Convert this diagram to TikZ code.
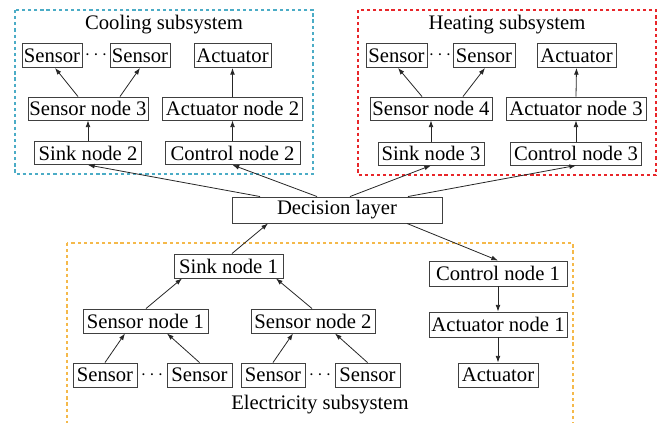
\documentclass[tikz,border=0pt]{standalone}
\usepackage{fontspec}
\setmainfont{Liberation Serif}
\usetikzlibrary{arrows.meta,calc}
\definecolor{coolc}{HTML}{4BACC6}
\definecolor{heatc}{HTML}{E8262A}
\definecolor{elecc}{HTML}{F5B94A}
\begin{document}
\begin{tikzpicture}[x=0.75pt,y=-0.75pt,
  txt/.style={font=\fontsize{15.5}{18}\selectfont, inner sep=0pt},
  box/.style={txt, draw=black!75, line width=0.7pt, minimum height=24*0.75pt},
  bw/.style={minimum width=#1*0.75pt},
  frame/.style={line width=0.9pt, dash pattern=on 2.4pt off 2.2pt},
  arr/.style={draw=black!85, line width=0.6pt, -{Latex[length=5pt,width=3.6pt]}}
]
\useasboundingbox (0,0) rectangle (672,422);

% subsystem frames
\draw[frame, coolc] (15,10) rectangle (313,174);
\draw[frame, heatc] (358,10) rectangle (656,175);
\draw[frame, elecc] (67,243) rectangle (573,440);

% ---- cooling subsystem ----
\node[txt] (ctitle) at (164,25) {Cooling subsystem};
\node[box, bw=60] (cs1) at (52,55.5) {Sensor};
\node[txt] (cdots) at (96,55.5) {$\cdots$};
\node[box, bw=60] (cs2) at (140,55.5) {Sensor};
\node[box, bw=77] (cact) at (232.5,55.5) {Actuator};
\node[box, bw=120, minimum height=23*0.75pt] (csn3) at (88,108.5) {Sensor node 3};
\node[box, bw=140, minimum height=23*0.75pt] (can2) at (232.5,108.5) {Actuator node 2};
\node[box, bw=107, minimum height=23*0.75pt] (csk2) at (88,153) {Sink node 2};
\node[box, bw=135, minimum height=23*0.75pt] (ccn2) at (232.5,153) {Control node 2};

\draw[arr] (csk2.north) -- (csn3.south);
\draw[arr] ($(csn3.north)+(-10,0)$) -- ($(cs1.south)+(3,0)$);
\draw[arr] ($(csn3.north)+(32,0)$) -- (cs2.south);
\draw[arr] (ccn2.north) -- (can2.south);
\draw[arr] (can2.north) -- (cact.south);

% ---- heating subsystem ----
\node[txt] (htitle) at (507,25) {Heating subsystem};
\node[box, bw=61] (hs1) at (396.5,55.5) {Sensor};
\node[txt] (hdots) at (440,55.5) {$\cdots$};
\node[box, bw=62] (hs2) at (484,55.5) {Sensor};
\node[box, bw=79] (hact) at (576.5,55.5) {Actuator};
\node[box, bw=122, minimum height=23*0.75pt] (hsn4) at (431,108.5) {Sensor node 4};
\node[box, bw=140, minimum height=23*0.75pt] (han3) at (576,108.5) {Actuator node 3};
\node[box, bw=106, minimum height=23*0.75pt] (hsk3) at (431,153.5) {Sink node 3};
\node[box, bw=131, minimum height=23*0.75pt] (hcn3) at (576,153.5) {Control node 3};

\draw[arr] (hsk3.north) -- (hsn4.south);
\draw[arr] ($(hsn4.north)+(-9,0)$) -- ($(hs1.south)+(1.5,0)$);
\draw[arr] ($(hsn4.north)+(32,0)$) -- ($(hs2.south)+(1,0)$);
\draw[arr] (hcn3.north) -- (han3.south);
\draw[arr] (han3.north) -- (hact.south);

% ---- decision layer ----
\node[box, bw=210, minimum height=26*0.75pt] (dec) at (337,210) {Decision layer};

\draw[arr] ($(dec.north)+(-77,0)$) -- (csk2.south);
\draw[arr] ($(dec.north)+(-20,0)$) -- (ccn2.south);
\draw[arr] ($(dec.north)+(13,0)$) -- (hsk3.south);
\draw[arr] ($(dec.north)+(71,0)$) -- (hcn3.south);

% ---- electricity subsystem ----
\node[box, bw=109] (esk1) at (228.5,266) {Sink node 1};
\node[box, bw=125] (esn1) at (145.5,321) {Sensor node 1};
\node[box, bw=124] (esn2) at (313,321) {Sensor node 2};
\node[box, bw=64] (es1) at (105,375) {Sensor};
\node[txt] (edots1) at (152,375) {$\cdots$};
\node[box, bw=65] (es2) at (199.5,375) {Sensor};
\node[box, bw=64] (es3) at (273,375) {Sensor};
\node[txt] (edots2) at (320,375) {$\cdots$};
\node[box, bw=65] (es4) at (367.5,375) {Sensor};
\node[box, bw=138, minimum height=25*0.75pt] (ecn1) at (498,273.5) {Control node 1};
\node[box, bw=138, minimum height=25*0.75pt] (ean1) at (498,324.5) {Actuator node 1};
\node[box, bw=80] (eact) at (498,375) {Actuator};
\node[txt] (etitle) at (320,405) {Electricity subsystem};

\draw[arr] ($(esk1.north)+(3.5,0)$) -- ($(dec.south)+(-69,0)$);
\draw[arr] ($(dec.south)+(70,0)$) -- (ecn1.north);
\draw[arr] (ecn1.south) -- (ean1.north);
\draw[arr] (ean1.south) -- (eact.north);
\draw[arr] ($(esn1.north)+(0.5,0)$) -- ($(esk1.south)+(-46.5,0)$);
\draw[arr] ($(esn2.north)+(-1,0)$) -- ($(esk1.south)+(47.5,0)$);
\draw[arr] (es1.north) -- ($(esn1.south)+(-20.5,0)$);
\draw[arr] (es2.north) -- ($(esn1.south)+(21.5,0)$);
\draw[arr] (es3.north) -- ($(esn2.south)+(-20,0)$);
\draw[arr] (es4.north) -- ($(esn2.south)+(22,0)$);
\end{tikzpicture}
\end{document}
